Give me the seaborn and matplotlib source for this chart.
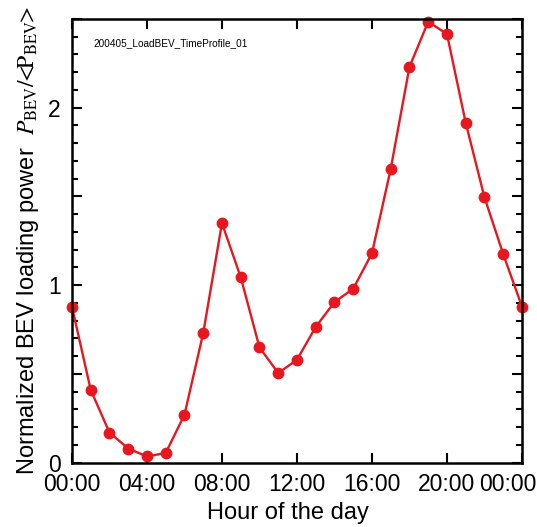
import numpy as np
import pandas as pd
import matplotlib
matplotlib.use('Agg')
import matplotlib.pyplot as plt
from matplotlib.ticker import MultipleLocator
from matplotlib.transforms import ScaledTranslation
import seaborn as sns

hours = list(range(25))
power = [0.88, 0.41, 0.17, 0.08, 0.035, 0.055, 0.27, 0.73, 1.35, 1.045, 0.65,
         0.505, 0.58, 0.765, 0.905, 0.98, 1.18, 1.655, 2.23, 2.485, 2.415,
         1.915, 1.495, 1.175, 0.88]
tick_hours = [0, 4, 8, 12, 16, 20, 24]
tick_labels = ['00:00', '04:00', '08:00', '12:00', '16:00', '20:00', '00:00']

sns.set_style('ticks')
plt.rcParams['font.family'] = ['Liberation Sans', 'DejaVu Sans']
plt.rcParams['mathtext.fontset'] = 'stix'
plt.rcParams['text.color'] = 'black'
plt.rcParams['axes.labelcolor'] = 'black'
plt.rcParams['xtick.color'] = 'black'
plt.rcParams['ytick.color'] = 'black'
plt.rcParams['axes.edgecolor'] = 'black'

df = pd.DataFrame({'hour': hours, 'power': power})

fig = plt.figure(figsize=(5.37, 5.27), dpi=100)
ax = fig.add_axes([0.134, 0.122, 0.838, 0.842])
sns.lineplot(data=df, x='hour', y='power', ax=ax, color='#e8171f', linewidth=1.7,
             marker='o', markersize=8.5, markeredgewidth=0, clip_on=False)

ax.set_xlim(0, 24)
ax.set_ylim(0, 2.5)
ax.set_xticks(tick_hours)
ax.set_xticklabels(tick_labels)
ax.yaxis.set_major_locator(MultipleLocator(0.5))
ax.yaxis.set_minor_locator(MultipleLocator(0.1))
ax.set_yticklabels(['0' if v == 0 else ('1' if v == 1 else ('2' if v == 2 else ''))
                    for v in ax.get_yticks()])
ax.tick_params(which='both', direction='in', top=True, right=True, width=1.5,
               labelsize=16.5)
ax.tick_params(axis='x', pad=7.5)
ax.tick_params(axis='y', pad=8)
ax.tick_params(which='major', length=7)
ax.tick_params(which='minor', length=4)
ax.tick_params(axis='x', which='minor', top=False, bottom=False)
for s in ax.spines.values():
    s.set_linewidth(1.8)

# last label squeezed against the right edge, as in the original
last = ax.get_xticklabels()[-1]
last.set_horizontalalignment('right')
last.set_transform(last.get_transform() + ScaledTranslation(0.145, 0, fig.dpi_scale_trans))

ax.set_xlabel('Hour of the day', fontsize=17)
ax.xaxis.set_label_coords(0.479, -0.088)
ax.set_ylabel(r'Normalized BEV loading power  $P_{\rm BEV}/\!\!<\!\!{\rm P}_{\rm BEV}\!\!>$',
              fontsize=17, labelpad=5)
ax.text(0.048, 0.946, '200405_LoadBEV_TimeProfile_01', transform=ax.transAxes,
        fontsize=7.2, va='center', ha='left')

fig.savefig('out.png', dpi=100)
